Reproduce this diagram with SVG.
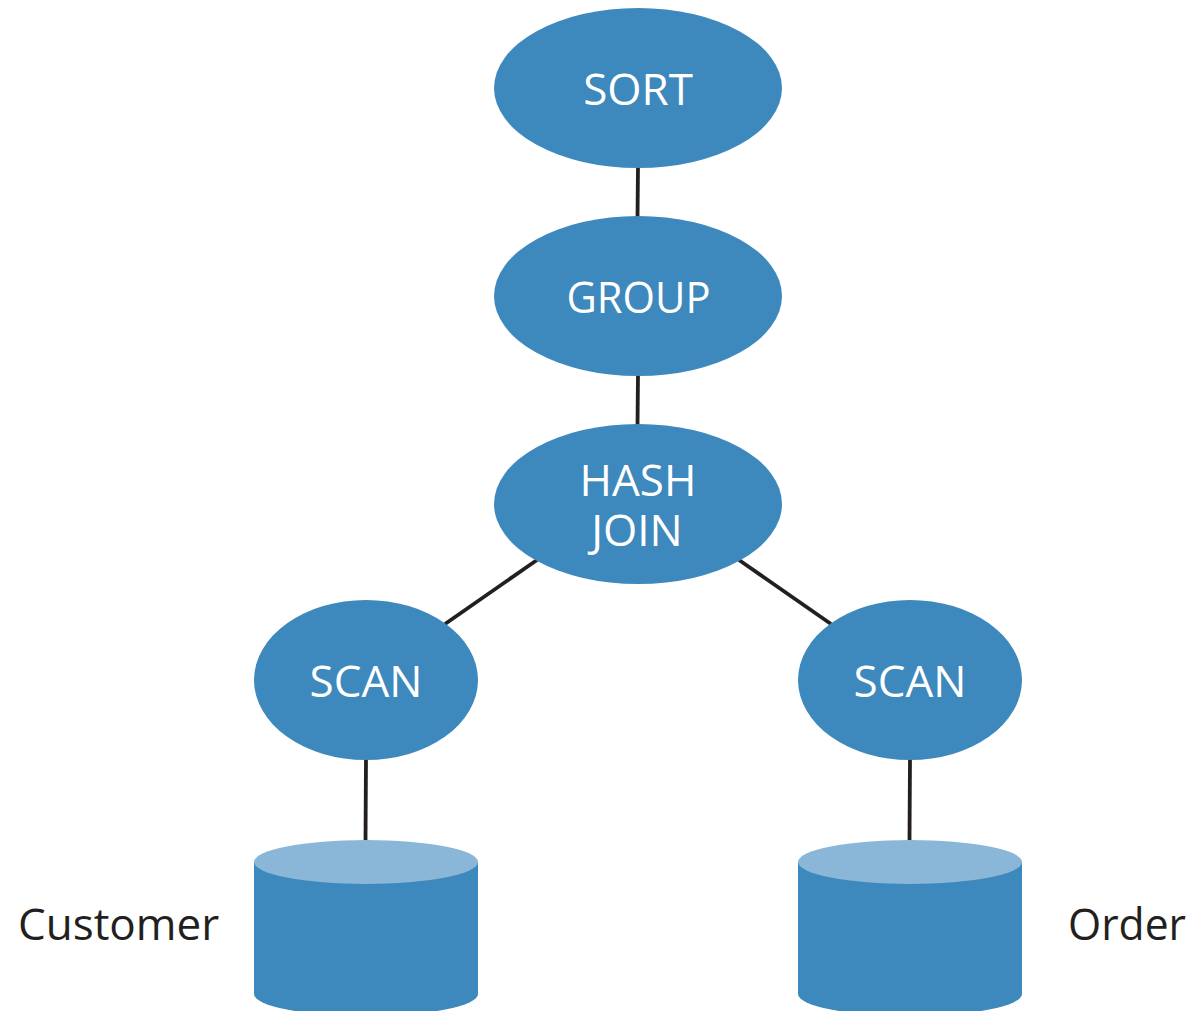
<svg xmlns="http://www.w3.org/2000/svg" width="1193" height="1011" viewBox="0 0 1193 1011">
<style>
.n{fill:#3d88bd}
.top{fill:#8ab6d7}
.l{font-family:"Open Sans","Noto Sans",sans-serif;font-size:44px;fill:#fff;text-anchor:middle}
.c{font-family:"Open Sans","Noto Sans",sans-serif;font-size:44px;fill:#231f20}
#connectors line{stroke:#231f20;stroke-width:3.8}
</style>
<rect width="1193" height="1011" fill="#fff"/>
<g id="connectors">
<line x1="638" y1="166" x2="637.500" y2="218"/>
<line x1="638" y1="374" x2="637.500" y2="426"/>
<line x1="537" y1="560" x2="445" y2="624"/>
<line x1="739" y1="560" x2="831" y2="624"/>
<line x1="366" y1="758" x2="365.500" y2="842"/>
<line x1="910" y1="758" x2="909.500" y2="842"/>
</g>
<g id="sort"><ellipse class="n" cx="638" cy="88" rx="144" ry="80"/><text class="l" x="638" y="105">SORT</text></g>
<g id="group"><ellipse class="n" cx="638" cy="296" rx="144" ry="80"/><text class="l" x="638.500" y="313" textLength="144" lengthAdjust="spacingAndGlyphs">GROUP</text></g>
<g id="hashjoin"><ellipse class="n" cx="638" cy="504" rx="144" ry="80"/><text class="l"><tspan x="638" y="496">HASH</tspan><tspan x="637" y="546">JOIN</tspan></text></g>
<g id="scan1"><ellipse class="n" cx="366" cy="680" rx="112" ry="80"/><text class="l" x="366" y="697">SCAN</text></g>
<g id="scan2"><ellipse class="n" cx="910" cy="680" rx="112" ry="80"/><text class="l" x="910" y="697">SCAN</text></g>
<g id="customer"><path class="n" d="M254 862V994A112 22 0 0 0 478 994V862Z"/><ellipse class="top" cx="366" cy="862" rx="112" ry="22"/><text class="c" x="18" y="940">Customer</text></g>
<g id="order"><path class="n" d="M798 862V994A112 22 0 0 0 1022 994V862Z"/><ellipse class="top" cx="910" cy="862" rx="112" ry="22"/><text class="c" x="1068" y="940" textLength="118" lengthAdjust="spacingAndGlyphs">Order</text></g>
</svg>
